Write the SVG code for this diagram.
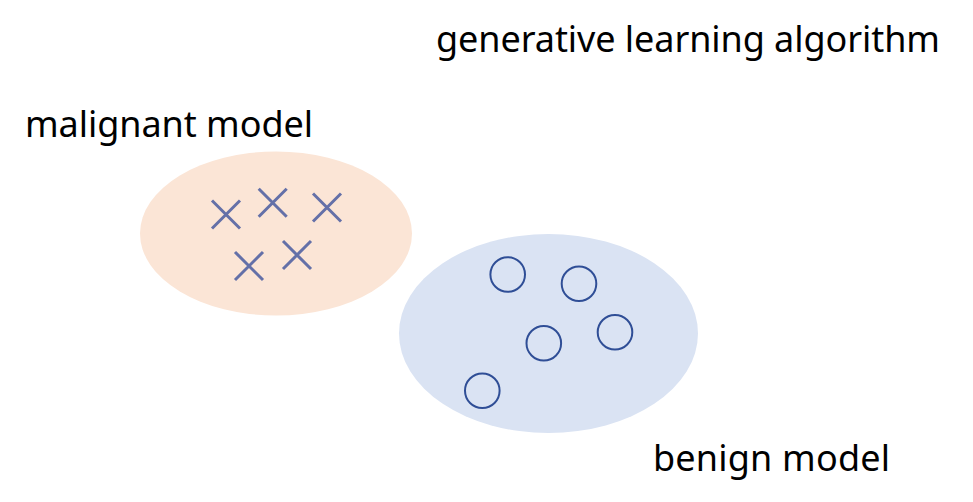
<svg xmlns="http://www.w3.org/2000/svg" width="973" height="502" viewBox="0 0 973 502">
<style>
.lbl{font-family:"Noto Sans","Open Sans","DejaVu Sans",sans-serif;font-size:36px;fill:#000}
.x{stroke:#6470A8;stroke-width:3;stroke-linecap:butt}
.o{fill:none;stroke:#2F4E96;stroke-width:2}
</style>
<rect width="973" height="502" fill="#fff"/>
<g id="title"><text class="lbl" x="436" y="52" textLength="504">generative learning algorithm</text></g>
<g id="malignant">
<ellipse cx="276" cy="233.5" rx="136" ry="82" fill="#FBE5D6"/>
<g>
<path class="x" d="M212,200.5L240,228.5M240,200.5L212,228.5"/>
<path class="x" d="M258.7,188.8L286.7,216.8M286.7,188.8L258.7,216.8"/>
<path class="x" d="M313,193.5L341,221.5M341,193.5L313,221.5"/>
<path class="x" d="M235,252L263,280M263,252L235,280"/>
<path class="x" d="M283,241L311,269M311,241L283,269"/>
</g>
<text class="lbl" x="25" y="137" textLength="288">malignant model</text>
</g>
<g id="benign">
<ellipse cx="548.5" cy="333.5" rx="149.5" ry="99.5" fill="#DAE3F3"/>
<circle class="o" cx="507.7" cy="274.5" r="17.3"/>
<circle class="o" cx="579" cy="283.8" r="17.3"/>
<circle class="o" cx="543.8" cy="343.3" r="17.3"/>
<circle class="o" cx="615" cy="332.2" r="17.3"/>
<circle class="o" cx="482.3" cy="390.8" r="17.3"/>
<text class="lbl" x="653" y="471" textLength="237">benign model</text>
</g>
<g id="connectors"/>
</svg>
